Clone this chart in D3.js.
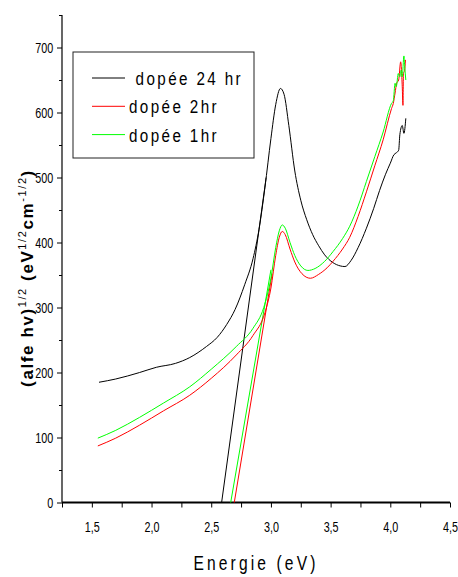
<!DOCTYPE html>
<html>
<head>
<meta charset="utf-8">
<style>
  body { margin: 0; background: #fff; }
  svg text { font-family: "Liberation Sans", Arial, sans-serif; fill: #000; }
  .axis path, .axis line { stroke: #000; }
  .curve { fill: none; stroke-width: 1; }
</style>
</head>
<body>
<svg id="chart" width="458" height="577"></svg>
<script src="https://d3js.org/d3.v7.min.js"></script>
<script>
// values: [energie (eV), (alfe hv)^1/2]
var dope24 = [[1.56,185],[1.7,190],[1.9,200],[2.04,208],[2.2,214],[2.32,223],[2.46,240],[2.55,254],[2.63,274],
  [2.7,297],[2.78,335],[2.85,375],[2.9,420],[2.95,485],[3.0,560],[3.04,612],[3.08,637],[3.11,628],[3.15,580],[3.2,510],
  [3.25,465],[3.3,435],[3.35,412],[3.4,395],[3.45,381],[3.52,369],[3.58,364],[3.62,363],[3.67,372],[3.73,392],
  [3.8,422],[3.86,452],[3.91,480],[3.96,505],[4.0,522],[4.03,535],[4.05,538],[4.07,542],[4.08,566],[4.1,580],[4.114,568],[4.13,591]];
var dope2 = [[1.55,87],[1.7,99],[1.9,119],[2.1,141],[2.32,165],[2.5,191],[2.71,227],[2.85,257],[2.95,292],
  [3.0,330],[3.04,380],[3.07,408],[3.095,417],[3.12,412],[3.16,390],[3.2,370],[3.26,352],[3.33,345],[3.4,351],
  [3.47,361],[3.52,371],[3.6,390],[3.66,408],[3.73,440],[3.8,478],[3.87,518],[3.94,558],[4.01,606],[4.025,614],
  [4.04,630],[4.053,645],[4.07,650],[4.087,678],[4.1,640],[4.106,611],[4.11,660],[4.12,665],[4.127,681]];
var dope1 = [[1.55,99],[1.7,111],[1.9,131],[2.1,153],[2.32,178],[2.5,205],[2.71,240],[2.85,268],[2.94,300],
  [3.0,345],[3.04,392],[3.07,418],[3.095,427],[3.12,422],[3.16,400],[3.2,380],[3.25,364],[3.31,357],[3.37,360],
  [3.45,371],[3.52,386],[3.6,406],[3.66,425],[3.73,456],[3.8,494],[3.87,532],[3.94,570],[4.01,614],[4.025,618],
  [4.04,645],[4.05,640],[4.067,660],[4.08,655],[4.09,665],[4.1,655],[4.114,687],[4.12,672],[4.13,650]];
// extrapolated straight lines down to the energy axis
var tangent24 = [[2.587,0],[2.96,500]];
var tangent2 = [[2.693,0],[3.01,352]];
var tangent1 = [[2.663,0],[3.0,358]];

var legendNames = [" dopée 24 hr", "dopée 2hr", "dopée 1hr"];
var colors = ["#000000", "#ff0000", "#00ff00"];
var xTicks = [1.5, 2.0, 2.5, 3.0, 3.5, 4.0, 4.5];
var xMinor = [1.25, 1.75, 2.25, 2.75, 3.25, 3.75, 4.25];
var yTicks = [0, 100, 200, 300, 400, 500, 600, 700];
var yMinor = [50, 150, 250, 350, 450, 550, 650, 750];

var padL = 62, padR = 450, padT = 15, padB = 502.5;
var narrow = 'scale(0.72,1)';
var x = d3.scaleLinear().domain([1.25, 4.5]).range([padL, padR]);
var y = d3.scaleLinear().domain([0, 750]).range([padB, padT]);

var svg = d3.select('#chart');

// y axis
svg.append('g').attr('class', 'axis').attr('transform', 'translate(' + padL + ',0)')
  .call(d3.axisLeft(y).tickValues(yTicks).tickSize(5).tickPadding(7).tickSizeOuter(0))
  .call(function(g){ g.select('.domain').remove(); })
  .selectAll('text').style('font-size', '15px').attr('transform', narrow);
svg.append('g').attr('class', 'axis').attr('transform', 'translate(' + padL + ',0)')
  .call(d3.axisLeft(y).tickValues(yMinor).tickSize(3).tickFormat(''))
  .call(function(g){ g.select('.domain').remove(); });
svg.append('line').attr('x1', padL).attr('x2', padL).attr('y1', padT).attr('y2', padB)
  .attr('stroke', '#000').attr('stroke-width', 1.2);

// x axis
svg.append('g').attr('class', 'axis').attr('transform', 'translate(0,' + padB + ')')
  .call(d3.axisBottom(x).tickValues(xTicks).tickSize(5).tickPadding(14)
    .tickFormat(function(d){ return d.toFixed(1).replace('.', ','); }))
  .call(function(g){ g.select('.domain').remove(); })
  .selectAll('text').style('font-size', '15px').attr('transform', narrow);
svg.append('g').attr('class', 'axis').attr('transform', 'translate(0,' + padB + ')')
  .call(d3.axisBottom(x).tickValues(xMinor).tickSize(5).tickFormat(''))
  .call(function(g){ g.select('.domain').remove(); });
svg.append('line').attr('x1', padL).attr('x2', padR).attr('y1', padB).attr('y2', padB)
  .attr('stroke', '#000').attr('stroke-width', 2);

// axis titles
svg.append('g').attr('transform', 'translate(256,570) scale(0.78,1)')
  .append('text')
  .attr('text-anchor', 'middle')
  .style('font-size', '20px').style('letter-spacing', '4px')
  .text('Energie (eV)');

var ylab = svg.append('text')
  .attr('transform', 'translate(33,278) rotate(-90)')
  .attr('text-anchor', 'middle')
  .style('font-size', '17px').style('font-weight', 'bold').style('letter-spacing', '1.6px');
ylab.append('tspan').text('(alfe hv)');
ylab.append('tspan').attr('dy', -7).style('font-size', '11px').style('font-weight', 'normal').text('1/2');
ylab.append('tspan').attr('dy', 7).text(' (eV');
ylab.append('tspan').attr('dy', -7).style('font-size', '11px').style('font-weight', 'normal').text('1/2');
ylab.append('tspan').attr('dy', 7).text('cm');
ylab.append('tspan').attr('dy', -7).style('font-size', '11px').style('font-weight', 'normal').text('-1/2');
ylab.append('tspan').attr('dy', 7).text(')');

// curves
var line = d3.line().x(function(d){ return x(d[0]); }).y(function(d){ return y(d[1]); })
  .curve(d3.curveMonotoneX);
var straight = d3.line().x(function(d){ return x(d[0]); }).y(function(d){ return y(d[1]); });

[tangent24, tangent2, tangent1].forEach(function(t, i){
  svg.append('path').attr('class', 'curve').attr('d', straight(t)).attr('stroke', colors[i]);
});
[dope24, dope2, dope1].forEach(function(s, i){
  svg.append('path').attr('class', 'curve').attr('d', line(s)).attr('stroke', colors[i]);
});

// legend
var legend = svg.append('g');
legend.append('rect')
  .attr('x', 73).attr('y', 52).attr('width', 181).attr('height', 106)
  .attr('fill', '#fff').attr('stroke', '#222').attr('stroke-width', 1);
var item = legend.selectAll('g.item').data(legendNames).enter().append('g')
  .attr('class', 'item')
  .attr('transform', function(d, i){ return 'translate(0,' + (78 + i * 28.3) + ')'; });
item.append('line').attr('x1', 92).attr('x2', 125).attr('y1', 0).attr('y2', 0)
  .attr('stroke', function(d, i){ return colors[i]; });
item.append('g').attr('transform', 'translate(129,7) scale(0.8,1)')
  .append('text')
  .style('font-size', '19px').style('letter-spacing', '3px')
  .style('white-space', 'pre')
  .text(function(d){ return d; });
</script>
</body>
</html>
